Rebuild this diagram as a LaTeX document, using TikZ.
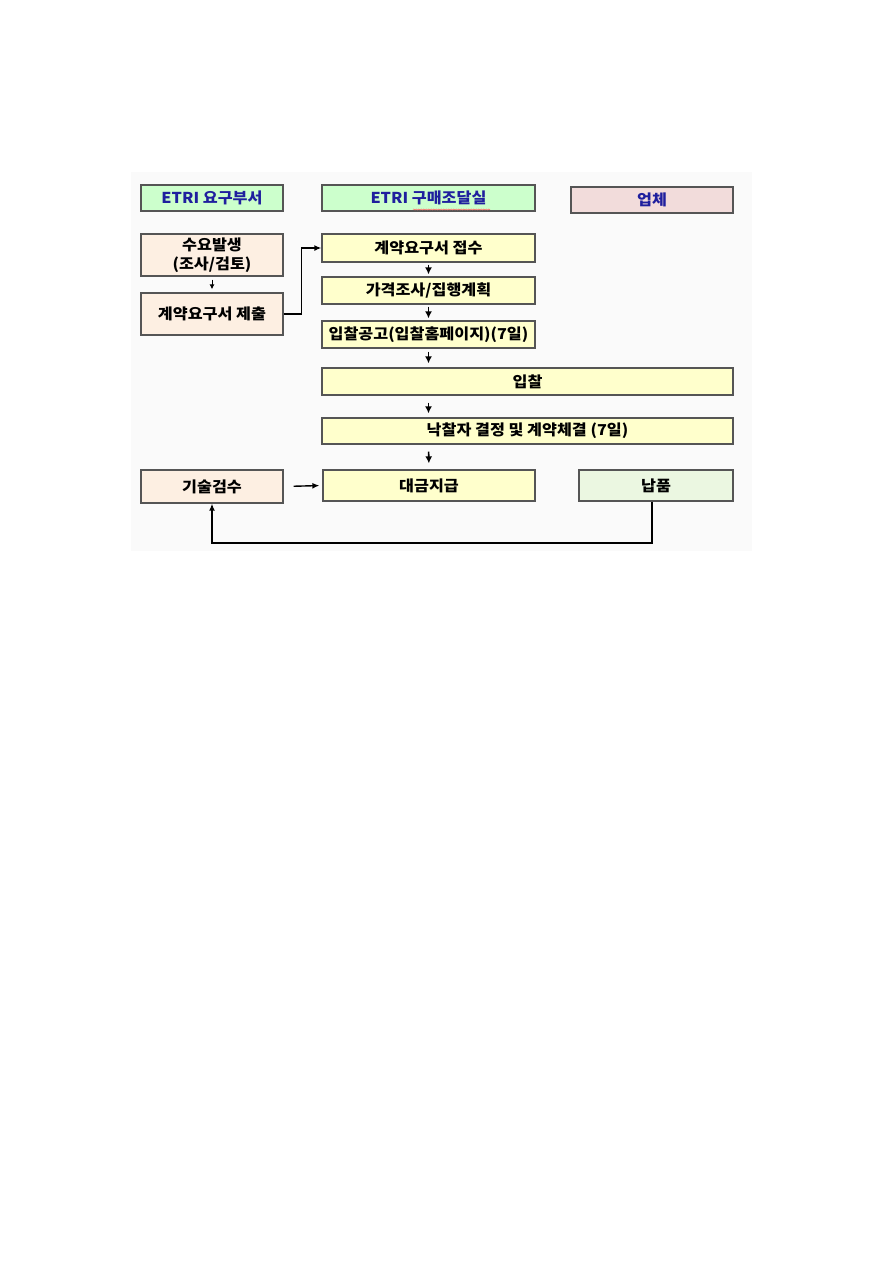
\documentclass[tikz,border=0pt]{standalone}
\usepackage{fontspec}
\setmainfont[FakeStretch=1.08]{Noto Sans CJK KR}
\usetikzlibrary{arrows.meta,decorations.pathmorphing,calc}
\definecolor{hdrgreen}{HTML}{CCFFCC}
\definecolor{hdrpink}{HTML}{F2DCDB}
\definecolor{beige}{HTML}{FDEFE2}
\definecolor{lyellow}{HTML}{FFFFCC}
\definecolor{lgreen}{HTML}{EBF7E1}
\definecolor{hdrblue}{HTML}{1F1F9E}
\definecolor{bordergray}{HTML}{555555}
\begin{document}
\begin{tikzpicture}[x=1pt,y=-1pt,
  box/.style={draw=bordergray,line width=1.3pt,inner sep=0pt,align=center,
    font=\fontsize{15}{18.5}\selectfont\bfseries},
  hdr/.style={box,text=hdrblue},
  arr/.style={line width=1.6pt,-{Latex[length=7pt,width=7pt]}},
  conn/.style={line width=1.3pt}]
\useasboundingbox (0,0) rectangle (893,1262);
\fill[gray!4] (131,172) rectangle (752,551);
% headers
\node[hdr,fill=hdrgreen,minimum width=142pt,minimum height=26pt] (h1) at (212,198) {ETRI 요구부서};
\node[hdr,fill=hdrgreen,minimum width=213pt,minimum height=26pt] (h2) at (428.5,198) {ETRI 구매조달실};
\node[hdr,fill=hdrpink,minimum width=162pt,minimum height=26pt] (h3) at (652,200) {업체};
\draw[red!60,line width=0.5pt,decorate,decoration={snake,amplitude=0.6pt,segment length=2.5pt}] (413,209.5) -- (490,209.5);
% left column
\node[box,fill=beige,minimum width=142pt,minimum height=42pt] (a1) at (212,255) {수요발생\\(조사/검토)};
\node[box,fill=beige,minimum width=142pt,minimum height=42pt] (a2) at (212,314) {계약요구서 제출};
\node[box,fill=beige,minimum width=142pt,minimum height=33pt] (c1) at (212,486.5) {기술검수};
% middle column
\node[box,fill=lyellow,minimum width=213pt,minimum height=28pt] (b1) at (428.5,248) {계약요구서 접수};
\node[box,fill=lyellow,minimum width=213pt,minimum height=27pt] (b2) at (428.5,290.5) {가격조사/집행계획};
\node[box,fill=lyellow,minimum width=213pt,minimum height=27pt] (b3) at (428.5,334.5) {입찰공고(입찰홈페이지)(7일)};
\node[box,fill=lyellow,minimum width=411pt,minimum height=27pt] (b4) at (527.5,381.5) {입찰};
\node[box,fill=lyellow,minimum width=411pt,minimum height=26pt] (b5) at (527.5,431) {낙찰자 결정 및 계약체결 (7일)};
\node[box,fill=lyellow,minimum width=212pt,minimum height=31pt] (b6) at (429,485.5) {대금지급};
% right
\node[box,fill=lgreen,minimum width=154pt,minimum height=31pt] (d1) at (656,485.5) {납품};
% connectors
\draw[line width=1pt,-{Latex[length=5pt,width=5pt]}] (a1.south) ++(0,3) -- ($(a2.north)+(0,-3)$);
\draw[arr,line width=1.4pt,-{Latex[length=7pt,width=6pt]}] (a2.east) -- ++(18,0) |- (b1.west);
\draw[arr,shorten <=2pt,shorten >=2pt] (b1.south) -- (b2.north);
\draw[arr,shorten <=2pt,shorten >=2pt] (b2.south) -- (b3.north);
\coordinate (b4top) at (b3.south |- b4.north);
\coordinate (b4bot) at (b3.south |- b4.south);
\coordinate (b5top) at (b3.south |- b5.north);
\coordinate (b5bot) at (b3.south |- b5.south);
\draw[arr,shorten <=3pt,shorten >=4pt] (b3.south) -- (b4top);
\draw[arr,shorten <=7pt,shorten >=4pt] (b4bot) -- (b5top);
\draw[arr,shorten <=7pt,shorten >=6pt] (b5bot) -- (b6.north);
\draw[arr,line width=1.4pt,-{Latex[length=7pt,width=6pt]},shorten <=10pt,shorten >=3pt] (c1.east) -- (b6.west);
\coordinate (fb) at (d1.south |- 0,543);
\draw[arr,line width=1.4pt,-{Latex[length=7pt,width=6pt]}] ($(d1.south)+(-4,0)$) -- ($(fb)+(-4,0)$) -| (c1.south);
\end{tikzpicture}
\end{document}
